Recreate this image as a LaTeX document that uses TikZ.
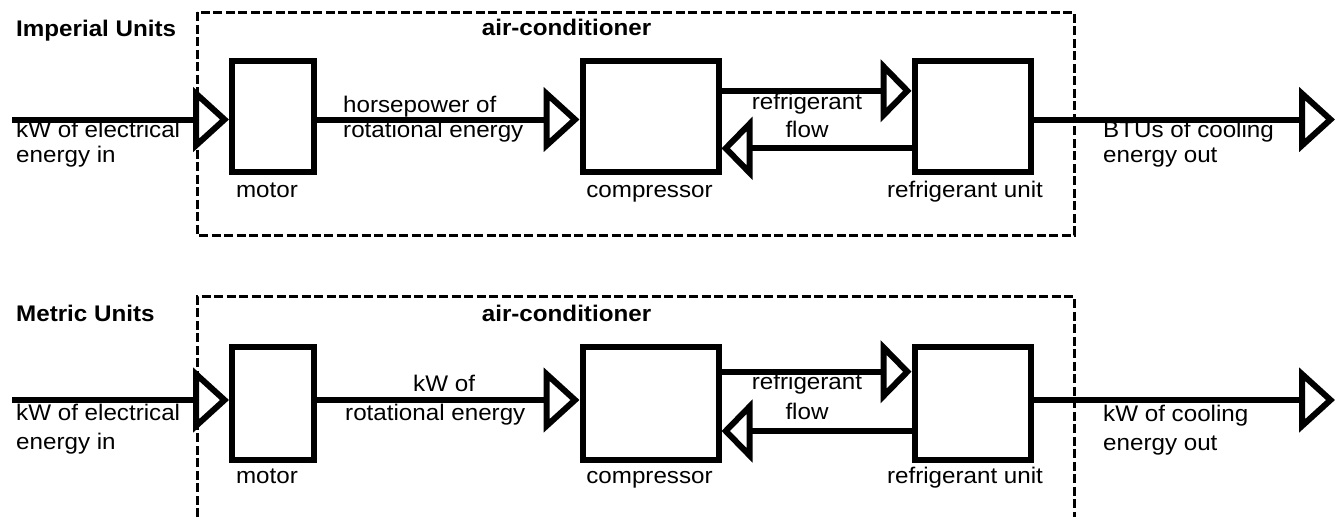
\documentclass[tikz,border=0pt]{standalone}
\usepackage{fontspec}
\setmainfont{Liberation Sans}[FakeStretch=1.07]
\usetikzlibrary{arrows.meta}
\begin{document}
\begin{tikzpicture}[x=1pt,y=-1pt,
  blk/.style={draw, line width=6pt, inner sep=0pt},
  conn/.style={line width=6pt, -{Triangle[open,length=36pt,width=64pt]}},
  rconn/.style={line width=6pt, -{Triangle[open,length=31pt,width=62pt]}},
  lbl/.style={inner sep=0pt, font=\fontsize{22.6}{26}\selectfont},
  ttl/.style={inner sep=0pt, font=\fontsize{22.6}{26}\selectfont\bfseries},
  frame/.style={line width=3pt, dash pattern=on 9pt off 3.5pt}
]
\useasboundingbox (0,0) rectangle (1343,517);

% ---------------- Imperial (top) ----------------
\draw[frame] (197,12) rectangle (1074,235);
\node[ttl, anchor=base west] (impT) at (16,36) {Imperial Units};
\node[ttl, anchor=base] (acT) at (566.5,35) {air-conditioner};

\node[blk, minimum width=82pt, minimum height=111pt] (motorT) at (273,116) {};
\node[blk, minimum width=136pt, minimum height=111pt] (compT) at (650.5,116) {};
\node[blk, minimum width=116pt, minimum height=111pt] (refT) at (972.5,116) {};

\coordinate (lineT) at (0,119.5);
\coordinate (inT) at (12,119.5);
\coordinate (outT) at (1335,119.5);
\coordinate (upT) at (0,90.8);
\coordinate (dnT) at (0,148.3);

\draw[conn] (inT) -- (motorT.west |- lineT);
\draw[conn] (motorT.east |- lineT) -- (compT.west |- lineT);
\draw[rconn] (compT.east |- upT) -- (refT.west |- upT);
\draw[rconn] (refT.west |- dnT) -- (compT.east |- dnT);
\draw[conn] (refT.east |- lineT) -- (outT);

\node[lbl, anchor=base west] (inA) at (16,137.5) {kW of electrical};
\node[lbl, anchor=base west] (inB) at (16,162.3) {energy in};
\node[lbl, anchor=base west] (midA) at (343,112.7) {horsepower of};
\node[lbl, anchor=base west] (midB) at (343,137.3) {rotational energy};
\node[lbl, anchor=base] (rfA) at (807,109.3) {refrigerant};
\node[lbl, anchor=base] (rfB) at (807,137.3) {flow};
\node[lbl, anchor=base west] (outA) at (1103,137.5) {BTUs of cooling};
\node[lbl, anchor=base west] (outB) at (1103,162.3) {energy out};
\node[lbl, anchor=base] (mlT) at (267,197) {motor};
\node[lbl, anchor=base] (clT) at (649.5,197) {compressor};
\node[lbl, anchor=base] (rlT) at (965,197) {refrigerant unit};

% ---------------- Metric (bottom) ----------------
\draw[frame] (197,517) -- (197,296.7) -- (1074,296.7) -- (1074,517);
\node[ttl, anchor=base west] (metB) at (16,321) {Metric Units};
\node[ttl, anchor=base] (acB) at (566.5,321) {air-conditioner};

\node[blk, minimum width=82pt, minimum height=113.5pt] (motorB) at (273,403.25) {};
\node[blk, minimum width=136pt, minimum height=113.5pt] (compB) at (650.5,403.25) {};
\node[blk, minimum width=116pt, minimum height=113.5pt] (refB) at (972.5,403.25) {};

\coordinate (lineB) at (0,400);
\coordinate (inBB) at (12,400);
\coordinate (outBB) at (1335,400);
\coordinate (upB) at (0,371.7);
\coordinate (dnB) at (0,431);

\draw[conn] (inBB) -- (motorB.west |- lineB);
\draw[conn] (motorB.east |- lineB) -- (compB.west |- lineB);
\draw[rconn] (compB.east |- upB) -- (refB.west |- upB);
\draw[rconn] (refB.west |- dnB) -- (compB.east |- dnB);
\draw[conn] (refB.east |- lineB) -- (outBB);

\node[lbl, anchor=base west] (inC) at (16,420.5) {kW of electrical};
\node[lbl, anchor=base west] (inD) at (16,449) {energy in};
\node[lbl, anchor=base west] (midC) at (413,391.7) {kW of};
\node[lbl, anchor=base west] (midD) at (345,420.5) {rotational energy};
\node[lbl, anchor=base] (rfC) at (807,389) {refrigerant};
\node[lbl, anchor=base] (rfD) at (807,419) {flow};
\node[lbl, anchor=base west] (outC) at (1103,421.5) {kW of cooling};
\node[lbl, anchor=base west] (outD) at (1103,450) {energy out};
\node[lbl, anchor=base] (mlB) at (267,483) {motor};
\node[lbl, anchor=base] (clB) at (649.5,483) {compressor};
\node[lbl, anchor=base] (rlB) at (965,483) {refrigerant unit};
\end{tikzpicture}
\end{document}
